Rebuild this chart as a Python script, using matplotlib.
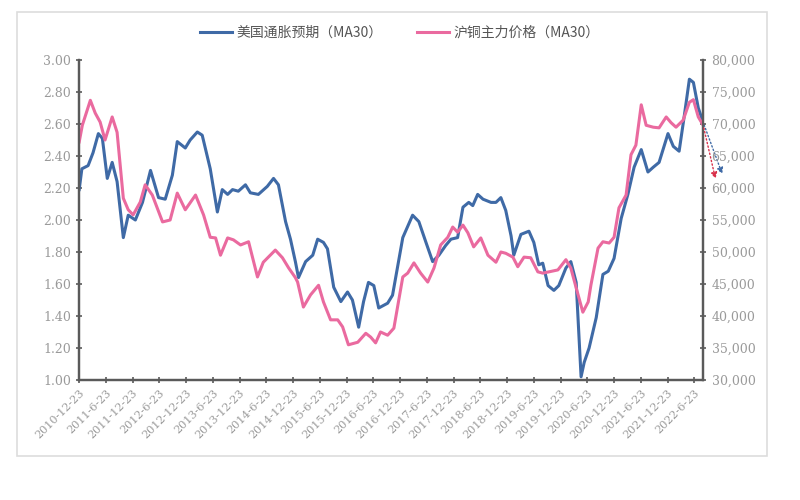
import matplotlib

matplotlib.use("Agg")
import matplotlib.pyplot as plt
from matplotlib.patches import Rectangle

plt.rcParams["font.family"] = ["Noto Sans CJK SC", "DejaVu Sans"]

# x values are months since 2010-12-23
tick_labels = [
    "2010-12-23", "2011-6-23", "2011-12-23", "2012-6-23", "2012-12-23", "2013-6-23",
    "2013-12-23", "2014-6-23", "2014-12-23", "2015-6-23", "2015-12-23", "2016-6-23",
    "2016-12-23", "2017-6-23", "2017-12-23", "2018-6-23", "2018-12-23", "2019-6-23",
    "2019-12-23", "2020-6-23", "2020-12-23", "2021-6-23", "2021-12-23", "2022-6-23",
]
tick_months = [6 * i for i in range(len(tick_labels))]

# US inflation expectation (MA30), left axis
infl_m = [0, 0.6, 2.0, 3.1, 4.3, 5.2, 6.3, 7.4, 8.5, 9.9, 11.0, 12.6, 14.2, 16.0,
          17.8, 19.3, 20.9, 22.0, 23.8, 24.9, 26.5, 27.6, 29.4, 31.0, 32.1, 33.3,
          34.4, 35.7, 37.3, 38.4, 40.2, 42.2, 43.6, 44.7, 46.3, 47.4, 48.5, 49.2,
          50.8, 52.4, 53.5, 54.8, 55.7, 57.1, 58.7, 60.2, 61.3, 62.7, 63.8, 64.9,
          66.1, 67.2, 69.2, 70.3, 72.6, 74.8, 76.2, 77.8, 79.3, 80.7, 82.2, 83.4,
          84.9, 86.1, 87.4, 88.3, 89.4, 90.6, 92.4, 93.5, 94.6, 95.7, 96.9, 97.5,
          99.1, 100.9, 102.0, 103.1, 104.0, 105.2, 106.5, 107.6, 109.2, 110.3, 111.5,
          112.6, 113.3, 114.4, 116.0, 117.5, 118.7, 120.0, 121.6, 123.1, 124.5, 126.1,
          127.6, 128.8, 130.1, 132.1, 133.3, 134.6, 135.7, 136.9, 137.8, 138.9, 140.0]
infl_v = [2.19, 2.32, 2.34, 2.42, 2.54, 2.51, 2.26, 2.36, 2.24, 1.89, 2.03, 2.00,
          2.11, 2.31, 2.14, 2.13, 2.28, 2.49, 2.45, 2.50, 2.55, 2.53, 2.32, 2.05,
          2.19, 2.16, 2.19, 2.18, 2.22, 2.17, 2.16, 2.21, 2.26, 2.22, 1.99, 1.88,
          1.74, 1.64, 1.74, 1.78, 1.88, 1.86, 1.82, 1.58, 1.49, 1.55, 1.50, 1.33,
          1.49, 1.61, 1.59, 1.45, 1.48, 1.53, 1.89, 2.03, 1.99, 1.86, 1.74, 1.78,
          1.84, 1.88, 1.89, 2.08, 2.11, 2.09, 2.16, 2.13, 2.11, 2.11, 2.14, 2.06,
          1.90, 1.78, 1.91, 1.93, 1.86, 1.72, 1.73, 1.59, 1.56, 1.59, 1.70, 1.74,
          1.61, 1.02, 1.11, 1.20, 1.39, 1.66, 1.68, 1.76, 2.01, 2.16, 2.33, 2.44,
          2.30, 2.33, 2.36, 2.54, 2.46, 2.43, 2.64, 2.88, 2.86, 2.70, 2.61]

# SHFE copper main contract price (MA30), right axis
cu_m = [0, 0.7, 2.5, 3.6, 4.7, 5.8, 7.4, 8.5, 9.9, 11.0, 12.1, 13.7, 14.8, 16.4,
        18.7, 20.4, 22.0, 23.8, 26.1, 27.9, 29.4, 30.6, 31.7, 33.3, 34.6, 36.2,
        38.0, 40.0, 41.3, 44.0, 45.6, 47.0, 48.5, 49.0, 50.3, 51.9, 53.7, 54.8,
        56.4, 58.0, 59.1, 60.4, 62.5, 64.3, 65.4, 66.5, 67.6, 69.2, 70.6, 72.6,
        73.7, 75.1, 76.6, 78.2, 79.6, 81.1, 82.7, 83.8, 84.9, 86.1, 87.2, 88.5,
        90.1, 91.7, 93.5, 94.6, 95.7, 97.3, 98.4, 99.8, 101.3, 102.9, 104.0, 105.4,
        107.4, 109.2, 110.3, 111.5, 113.0, 114.2, 114.8, 116.4, 117.5, 118.9, 120.0,
        121.1, 122.7, 123.8, 124.9, 126.1, 127.2, 128.8, 130.1, 131.7, 132.8, 133.9,
        135.5, 136.9, 137.8, 138.9, 140.0]
cu_v = [67200, 69800, 73700, 71700, 70300, 67500, 71100, 68700, 58400, 56600,
        55800, 57800, 60500, 58900, 54700, 55000, 59200, 56600, 58900, 55800,
        52300, 52200, 49500, 52200, 51900, 51100, 51600, 46100, 48400, 50300,
        49100, 47500, 46000, 45300, 41400, 43300, 44800, 42200, 39400, 39400,
        38300, 35500, 35900, 37300, 36700, 35800, 37500, 37000, 38100, 46100,
        46700, 48300, 46700, 45300, 47500, 51100, 52300, 53900, 53100, 54200,
        53000, 50800, 52200, 49500, 48400, 50000, 49800, 49200, 47700, 49200,
        49100, 46900, 46700, 46900, 47200, 48800, 47500, 44400, 40600, 42200,
        44800, 50600, 51600, 51400, 52300, 56900, 58900, 65200, 66700, 73000,
        69800, 69500, 69400, 71100, 70200, 69500, 70600, 73400, 73800, 71100, 69800]

# projected end points (dotted arrows)
infl_proj = (144.5, 2.27)
cu_proj = (142.9, 61000)

blue = "#3f6aa6"
pink = "#ea6a9f"
grey = "#9a9a9a"
spine = "#5a5a5a"
num_font = ["DejaVu Serif"]

fig = plt.figure(figsize=(8, 5), dpi=100)
fig.patches.append(Rectangle((0.021, 0.088), 0.938, 0.888, transform=fig.transFigure,
                             fill=False, edgecolor="#dddddd", lw=1.2))

ax = fig.add_axes([0.099, 0.24, 0.78, 0.64])
ax2 = ax.twinx()

l1, = ax.plot(infl_m, infl_v, color=blue, lw=2.2, label="美国通胀预期（MA30）")
l2, = ax2.plot(cu_m, cu_v, color=pink, lw=2.2, label="沪铜主力价格（MA30）")

ax.annotate("", xy=infl_proj, xytext=(infl_m[-1], infl_v[-1]), annotation_clip=False,
            arrowprops=dict(arrowstyle="-|>", color=blue, ls=":", lw=1.0, mutation_scale=9))
ax2.annotate("", xy=cu_proj, xytext=(cu_m[-1], cu_v[-1]), annotation_clip=False,
             arrowprops=dict(arrowstyle="-|>", color="#d9304a", ls=":", lw=1.0, mutation_scale=9))

ax.set_xlim(0, 140)
ax.set_ylim(1.0, 3.0)
ax2.set_ylim(30000, 80000)

ax.set_yticks([1 + 0.2 * i for i in range(11)])
ax.set_yticklabels([f"{1 + 0.2 * i:.2f}" for i in range(11)])
ax2.set_yticks([30000 + 5000 * i for i in range(11)])
ax2.set_yticklabels([f"{30000 + 5000 * i:,}" for i in range(11)])
ax.set_xticks(tick_months)
ax.set_xticklabels(tick_labels, rotation=45, ha="right", rotation_mode="anchor")

for a in (ax, ax2):
    a.spines["top"].set_visible(False)
    for s in ("left", "right", "bottom"):
        a.spines[s].set_color(spine)
        a.spines[s].set_linewidth(1.6)
    a.tick_params(colors=spine, labelcolor=grey, direction="inout", length=5, width=1.2,
                  labelsize=9)
    for lab in a.get_yticklabels() + a.get_xticklabels():
        lab.set_family(num_font)
ax.tick_params(axis="x", labelsize=8, pad=3)

fig.legend(handles=[l1, l2], loc="center", bbox_to_anchor=(0.5, 0.935), ncol=2,
           frameon=False, fontsize=10, handlelength=2.3, columnspacing=2.5,
           handletextpad=0.3, labelcolor="#555555")

fig.savefig("out.png", dpi=100)
